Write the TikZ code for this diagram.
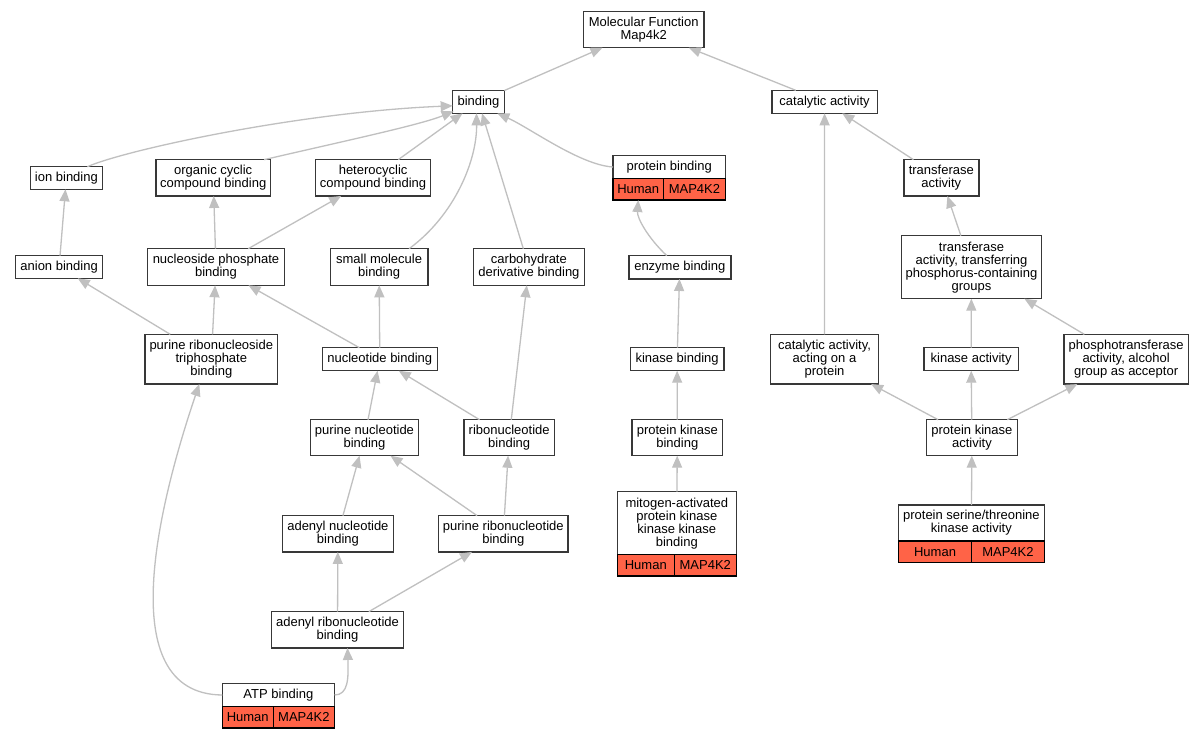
\documentclass[tikz,border=0pt]{standalone}
\usepackage{fontspec}
\setmainfont{Liberation Sans}
\usetikzlibrary{arrows.meta,calc}
\definecolor{boxc}{RGB}{56,56,56}
\definecolor{edgec}{RGB}{192,192,192}
\definecolor{cellred}{RGB}{255,99,71}
\newcommand\gofont{\fontsize{13}{13}\selectfont}
\tikzset{
  box/.style={draw=boxc, line width=1.4pt, fill=white, inner sep=0pt, outer sep=0pt, align=center, font=\gofont},
  cell/.style={draw=black, line width=1.4pt, fill=cellred, inner sep=0pt, outer sep=0pt, align=center, font=\gofont, anchor=north west},
  edge/.style={draw=edgec, line width=1.3pt, -{Triangle[length=12pt,width=10pt]}},
}
\begin{document}
\begin{tikzpicture}[x=1pt,y=-1pt]
\useasboundingbox[fill=white] (0,0) rectangle (1203,739);
% nodes
\node[box, minimum width=120.7, minimum height=36] (mf) at (643.7,29.7) {Molecular Function\\Map4k2};
\node[box, minimum width=51.7, minimum height=23] (bind) at (478.5,101.8) {binding};
\node[box, minimum width=105.4, minimum height=23] (cat) at (824.6,101.8) {catalytic activity};
\node[box, minimum width=72.4, minimum height=22.6] (ion) at (66.4,178) {ion binding};
\node[box, minimum width=114.8, minimum height=36.3] (occ) at (213.2,177.8) {organic cyclic\\compound binding};
\node[box, minimum width=114.8, minimum height=36.3] (het) at (373.1,177.8) {heterocyclic\\compound binding};
\node[box, minimum width=112.4, minimum height=22.6] (pb) at (669.2,167) {protein binding};
\node[cell, minimum width=50.5, minimum height=21.7] (pbh) at (pb.south west) {Human};
\node[cell, minimum width=61.9, minimum height=21.7] (pbm) at (pbh.north east) {MAP4K2};
\node[box, minimum width=75, minimum height=36.3] (ta) at (941.3,177.8) {transferase\\activity};
\node[box, minimum width=86.9, minimum height=22.6] (anion) at (59.1,267) {anion binding};
\node[box, minimum width=136.6, minimum height=36.6] (nps) at (216,267) {nucleoside phosphate\\binding};
\node[box, minimum width=97.6, minimum height=36.6] (smb) at (379.1,267) {small molecule\\binding};
\node[box, minimum width=111, minimum height=36.6] (cdb) at (528.9,267) {carbohydrate\\derivative binding};
\node[box, minimum width=102, minimum height=23.3] (enz) at (679.8,267.3) {enzyme binding};
\node[box, minimum width=139.6, minimum height=63] (ttr) at (971.5,267.2) {transferase\\activity, transferring\\phosphorus-containing\\groups};
\node[box, minimum width=132.5, minimum height=49.7] (prtb) at (211.3,359.2) {purine ribonucleoside\\triphosphate\\binding};
\node[box, minimum width=115.2, minimum height=23] (nb) at (379.8,359.2) {nucleotide binding};
\node[box, minimum width=93.4, minimum height=23] (kb) at (677.1,359.2) {kinase binding};
\node[box, minimum width=108, minimum height=49.7] (cap) at (824.5,359.2) {catalytic activity,\\acting on a\\protein};
\node[box, minimum width=94.6, minimum height=23] (ka) at (971.1,359.2) {kinase activity};
\node[box, minimum width=124.6, minimum height=49.7] (pta) at (1126.1,359.2) {phosphotransferase\\activity, alcohol\\group as acceptor};
\node[box, minimum width=108.3, minimum height=36] (pnb) at (364.5,437.7) {purine nucleotide\\binding};
\node[box, minimum width=90.7, minimum height=36] (rnb) at (509.2,437.7) {ribonucleotide\\binding};
\node[box, minimum width=90.8, minimum height=36] (pkb) at (677.3,437.7) {protein kinase\\binding};
\node[box, minimum width=90.8, minimum height=36] (pka) at (971.9,437.7) {protein kinase\\activity};
\node[box, minimum width=111, minimum height=36.3] (anb) at (337.9,533.8) {adenyl nucleotide\\binding};
\node[box, minimum width=129.4, minimum height=36.3] (prb) at (503.3,533.8) {purine ribonucleotide\\binding};
\node[box, minimum width=118.9, minimum height=63] (mit) at (676.8,523.2) {mitogen-activated\\protein kinase\\kinase kinase\\binding};
\node[cell, minimum width=56.9, minimum height=21.3] (mith) at (mit.south west) {Human};
\node[cell, minimum width=62, minimum height=21.3] (mitm) at (mith.north east) {MAP4K2};
\node[box, minimum width=145.7, minimum height=36] (sst) at (971.4,523) {protein serine/threonine\\kinase activity};
\node[cell, minimum width=73, minimum height=21.7] (ssth) at (sst.south west) {Human};
\node[cell, minimum width=72.7, minimum height=21.7] (sstm) at (ssth.north east) {MAP4K2};
\node[box, minimum width=132.4, minimum height=36.3] (arb) at (337.5,629.8) {adenyl ribonucleotide\\binding};
\node[box, minimum width=112.2, minimum height=22.6] (atp) at (278.4,695) {ATP binding};
\node[cell, minimum width=50.9, minimum height=21.7] (atph) at (atp.south west) {Human};
\node[cell, minimum width=61.3, minimum height=21.7] (atpm) at (atph.north east) {MAP4K2};
% edges
\draw[edge] (bind) -- (mf);
\draw[edge] (cat) -- (mf);
\draw[edge] ($(ion.north)+(21,0)$) .. controls (125,150) and (300,112) .. ($(bind.west)+(0,4)$);
\draw[edge] ($(occ.north)+(51,0)$) .. controls (340,142) and (420,125) .. ($(bind.south west)+(1,-2)$);
\draw[edge] (het) -- (bind);
\draw[edge] ($(smb.north)+(30,0)$) .. controls (455,215) and (477,160) .. ($(bind.south)+(-2,0)$);
\draw[edge] (cdb) -- (bind);
\draw[edge] (pb.west) .. controls (580,165) and (530,128) .. ($(bind.south east)+(-7,0)$);
\draw[edge] (ta) -- (cat);
\draw[edge] (cap) -- (cat);
\draw[edge] (anion) -- (ion);
\draw[edge] (nps) -- (occ);
\draw[edge] (nps) -- (het);
\draw[edge] ($(enz.north)+(-13,0)$) .. controls (648,238) and (637,218) .. (pbh.south);
\draw[edge] (ttr) -- (ta);
\draw[edge] (prtb) -- (anion);
\draw[edge] (prtb) -- (nps);
\draw[edge] (nb) -- (nps);
\draw[edge] (nb) -- (smb);
\draw[edge] (kb) -- (enz);
\draw[edge] (ka) -- (ttr);
\draw[edge] (pta) -- (ttr);
\draw[edge] (pnb) -- (nb);
\draw[edge] (rnb) -- (nb);
\draw[edge] (rnb) -- (cdb);
\draw[edge] (pkb) -- (kb);
\draw[edge] (pka) -- (cap);
\draw[edge] (pka) -- (ka);
\draw[edge] (pka) -- (pta);
\draw[edge] (anb) -- (pnb);
\draw[edge] (prb) -- (pnb);
\draw[edge] (prb) -- (rnb);
\draw[edge] (mit) -- (pkb);
\draw[edge] (sst) -- (pka);
\draw[edge] (arb) -- (anb);
\draw[edge] (arb) -- (prb);
\draw[edge] (atp.east) .. controls +(14,0) and +(1,30) .. ($(arb.south)+(10,0)$);
\draw[edge] (atp.west) .. controls (110,694) and (160,500) .. ($(prtb.south)+(-12,0)$);
\end{tikzpicture}
\end{document}
